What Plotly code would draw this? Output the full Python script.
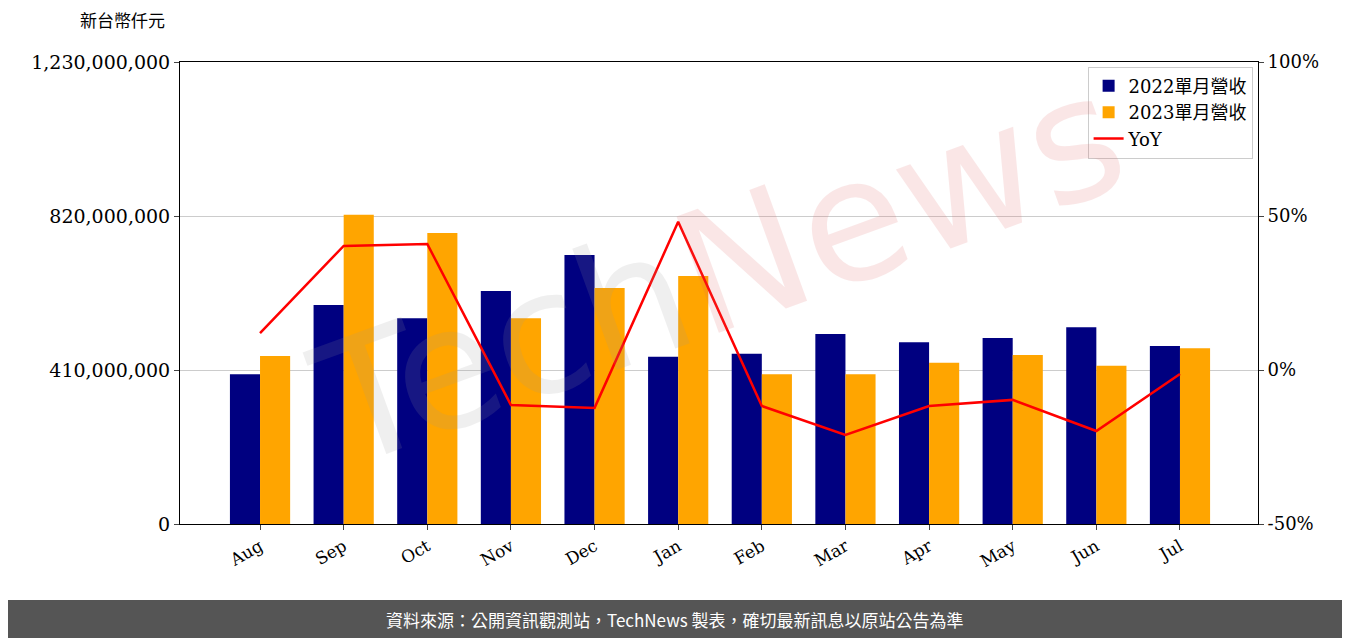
import plotly.graph_objects as go

months = ["Aug","Sep","Oct","Nov","Dec","Jan","Feb","Mar","Apr","May","Jun","Jul"]
rev2022 = [399e6,583e6,548e6,620e6,716e6,445e6,453e6,506e6,484e6,495e6,524e6,474e6]
rev2023 = [447e6,823e6,775e6,548e6,628e6,660e6,399e6,399e6,429e6,450e6,421e6,468e6]
yoy = [12.0,40.3,40.9,-11.4,-12.3,48.1,-11.7,-21.1,-11.7,-9.7,-19.8,-1.3]
left_ticks = [0,410e6,820e6,1230e6]
left_labels = ["0","410,000,000","820,000,000","1,230,000,000"]
right_ticks = [-50,0,50,100]
right_labels = ["-50%","0%","50%","100%"]

serif = "DejaVu Serif"
fig = go.Figure()
fig.add_bar(x=months, y=rev2022, name="2022單月營收", marker_color="#000080", marker_line_width=0)
fig.add_bar(x=months, y=rev2023, name="2023單月營收", marker_color="#FFA500", marker_line_width=0)
fig.add_scatter(x=months, y=yoy, name="YoY", mode="lines", line=dict(color="red", width=2.5), yaxis="y2")

fig.update_layout(
    width=1342, height=630, margin=dict(l=172, r=92, t=54, b=114),
    plot_bgcolor="white", paper_bgcolor="white",
    barmode="group", bargap=0.28, bargroupgap=0,
    font=dict(family=serif, size=17, color="black"),
    xaxis=dict(tickangle=-30, showline=True, linecolor="black", mirror=True, ticks="outside",
               tickfont=dict(size=17), range=[-0.957, 11.933]),
    yaxis=dict(range=[0,1230e6], tickvals=left_ticks, ticktext=left_labels, showgrid=True, gridcolor="#cccccc",
               showline=True, linecolor="black", ticks="outside", zeroline=False, tickfont=dict(size=19)),
    yaxis2=dict(range=[-50,100], tickvals=right_ticks, ticktext=right_labels, overlaying="y", side="right",
                showgrid=False, showline=True, linecolor="black", ticks="outside", zeroline=False, tickfont=dict(size=18)),
    legend=dict(x=0.995, y=0.99, xanchor="right", yanchor="top", bordercolor="#cccccc", borderwidth=1,
                font=dict(family=serif+", Noto Sans CJK TC", size=18), bgcolor="rgba(255,255,255,0.8)"),
    showlegend=True,
)
fig.add_annotation(text="<span style='color:#999999'>Tech</span><span style='color:#e06060'>News</span>",
                   xref="paper", yref="paper", x=0.5, y=0.55, showarrow=False, textangle=-20, opacity=0.15,
                   font=dict(size=170, family="DejaVu Sans", color="#999999"))
fig.add_annotation(text="新台幣仟元", xref="paper", yref="paper", x=-0.095, y=1.06, xanchor="left", yanchor="bottom",
                   showarrow=False, font=dict(family="Noto Sans CJK TC", size=17))
fig.add_shape(type="rect", xref="paper", yref="paper", x0=-0.17, x1=1.09, y0=-0.2468, y1=-0.1645,
              fillcolor="#555555", line_width=0, layer="below")
fig.add_annotation(text="資料來源：公開資訊觀測站，TechNews 製表，確切最新訊息以原站公告為準", xref="paper", yref="paper",
                   x=(667-172)/1078, y=-0.2468, yanchor="bottom", yshift=4, showarrow=False,
                   font=dict(family="Noto Sans CJK TC", size=17, color="white"))
fig.write_html("out.html")
